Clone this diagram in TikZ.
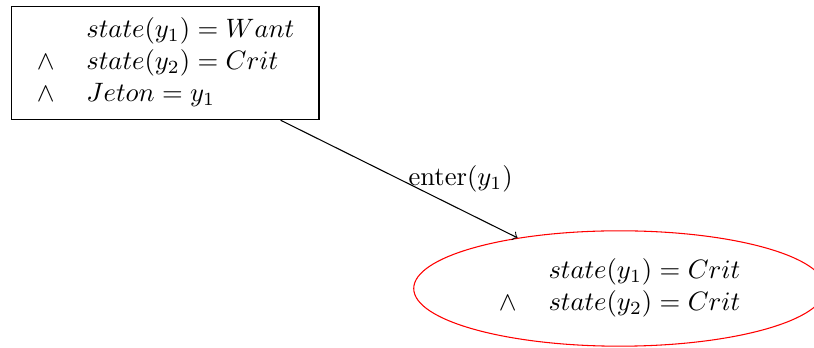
\documentclass[tikz,border=0pt]{standalone}
\usetikzlibrary{shapes.geometric}

\begin{document}
\begin{tikzpicture}

\useasboundingbox (0,0) rectangle (10.753,4.597);

\node (s0) at (2.186,3.765) [draw,rectangle]	{ \begin{tabular}{ll} & $state(y_1)=Want$ \\ $\wedge$ & $state(y_2)=Crit$ \\ $\wedge$ & $Jeton=y_1$ \end{tabular} };
\node (s1) at (8.184,0.786) [draw=red,ellipse]	{ \begin{tabular}{ll} & $state(y_1)=Crit$ \\ $\wedge$ & $state(y_2)=Crit$ \end{tabular} };

\path (s0) edge [draw,->] node[right] {enter$(y_1)$} (s1);

\end{tikzpicture}
\end{document}
